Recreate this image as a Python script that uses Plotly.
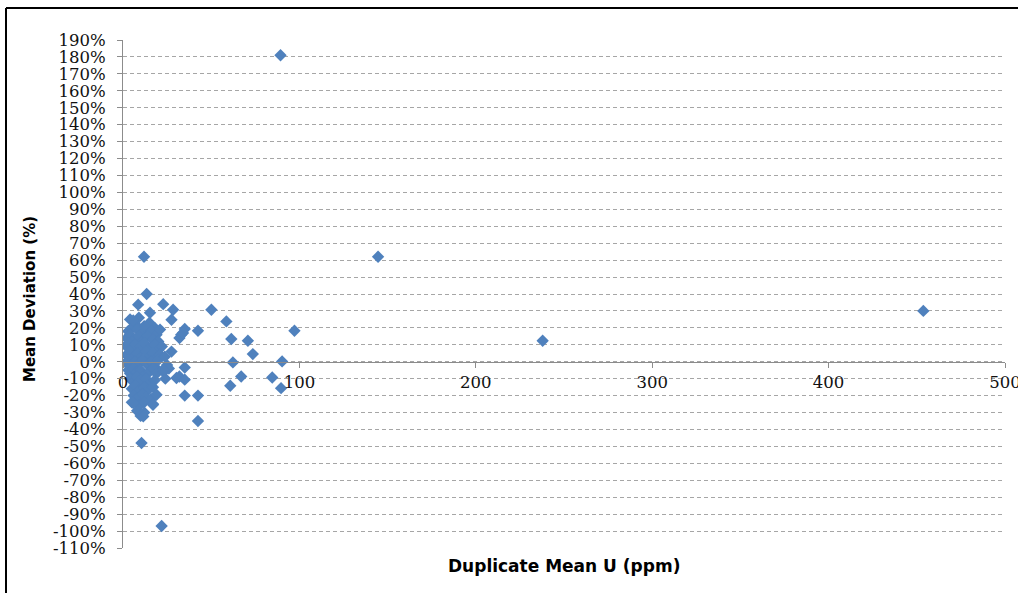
import plotly.graph_objects as go

# Duplicate assay pairs: mean U (ppm) and mean relative deviation (%)
dup_mean_u = [
    # dense low-grade cluster
    4, 7, 9, 12, 15, 18,
    3, 5, 8, 11, 13, 16, 19, 21,
    2, 4, 6, 9, 11, 14, 17, 20,
    2, 3, 5, 7, 10, 12, 15, 18, 20, 22,
    2, 4, 6, 8, 10, 13, 15, 17, 19, 21,
    2, 3, 5, 7, 9, 11, 14, 16, 18, 20,
    3, 4, 6, 8, 10, 12, 15, 17, 19,
    4, 6, 8, 10, 13, 15, 18,
    5, 7, 9, 12, 14, 17,
    6, 8, 11, 13, 16,
    5, 9, 12, 17,
    8, 10, 12,
    23, 25, 24, 26, 23.7, 22.8,
    # scattered pairs
    27.5, 32, 32, 30.3, 35, 35, 35, 33, 34, 42.5, 35, 42.5, 42.5,
    19, 17, 11.5, 5.8, 10.5, 13.4, 8.6, 22.8, 28.4, 15.3, 27.5, 5.8,
    50.1, 58.6, 97.2, 61.4, 70.8, 73.6, 62.3, 90.2, 67, 84.6, 60.8, 89.6,
    21.9,
    # high-grade outliers
    89.3, 11.9, 144.6, 237.9, 453.7,
]

mean_dev_pct = [
    25, 22, 26, 21, 23, 20,
    18, 20, 19, 17, 20, 18, 16, 19,
    14, 16, 13, 15, 12, 15, 13, 12,
    9, 11, 8, 10, 9, 11, 8, 10, 7, 9,
    4, 6, 3, 5, 2, 6, 3, 5, 2, 4,
    -1, 1, -2, 0, -1, 1, -2, 0, -3, 1,
    -5, -7, -4, -6, -5, -8, -6, -4, -7,
    -10, -12, -9, -11, -10, -13, -11,
    -16, -14, -17, -15, -17, -15,
    -20, -22, -19, -21, -22,
    -24, -26, -24, -25,
    -29, -32, -30,
    -6, -2, -10, -4, 3, -4.7,
    6, 14, -8.7, -9.6, -3.4, -10.6, 19.3, 16, 17, 18.3, -20, -20, -35,
    -19.5, -25.4, -32.3, -24.4, -48, 40, 33.7, 34, 30.7, 28.9, 24.8, 24.4,
    30.7, 23.8, 18.3, 13.4, 12.4, 4.5, -0.4, 0.2, -8.7, -9.3, -14.2, -15.6,
    -97,
    181, 62, 62, 12.4, 30,
]

y_ticks = list(range(-110, 191, 10))
y_tick_text = [f"{v}%" for v in y_ticks]
x_ticks = [0, 100, 200, 300, 400, 500]
x_tick_text = [str(v) for v in x_ticks]

W, H = 1018, 593
L, R, T, B = 123, 13, 40, 45
pw, ph = W - L - R, H - T - B


def px_x(p):
    return (p - L) / pw


def px_y(p):
    return (H - B - p) / ph


fig = go.Figure(
    go.Scatter(
        x=dup_mean_u,
        y=mean_dev_pct,
        mode="markers",
        marker=dict(symbol="diamond", size=9.5, color="#4F81BD",
                    line=dict(width=0)),
        hoverinfo="x+y",
    )
)

tick_font = dict(family="DejaVu Serif", size=16.5, color="#111111")
axis_grey = "#8c8c8c"

fig.update_layout(
    width=W,
    height=H,
    margin=dict(l=L, r=R, t=T, b=B, autoexpand=False),
    paper_bgcolor="white",
    plot_bgcolor="white",
    showlegend=False,
    xaxis=dict(
        range=[0, 500],
        tickvals=x_ticks,
        ticktext=x_tick_text,
        tickfont=tick_font,
        ticklabeloverflow="allow",
        automargin=False,
        showgrid=False,
        zeroline=False,
        showline=True,
        linecolor=axis_grey,
        linewidth=1,
        ticks="outside",
        ticklen=5,
        tickcolor=axis_grey,
        anchor="free",
        position=110 / 300,
    ),
    yaxis=dict(
        range=[-110, 190],
        tickvals=y_ticks,
        ticktext=y_tick_text,
        tickfont=tick_font,
        automargin=False,
        showgrid=True,
        gridcolor="#a6a6a6",
        griddash="4px,3px",
        gridwidth=1,
        zeroline=False,
        showline=True,
        linecolor=axis_grey,
        linewidth=1,
        ticks="outside",
        ticklen=5,
        tickcolor=axis_grey,
        ticklabelstandoff=8,
    ),
    annotations=[
        dict(text="<b>Mean Deviation (%)</b>", textangle=-90,
             xref="paper", yref="paper", x=px_x(30), y=px_y(299),
             xanchor="center", yanchor="middle", showarrow=False,
             font=dict(family="DejaVu Sans", size=15, color="#000000")),
        dict(text="<b>Duplicate Mean U (ppm)</b>",
             xref="paper", yref="paper", x=px_x(564), y=px_y(566),
             xanchor="center", yanchor="middle", showarrow=False,
             font=dict(family="DejaVu Sans", size=17, color="#000000")),
    ],
    shapes=[
        dict(type="line", xref="paper", yref="paper",
             x0=px_x(6), x1=px_x(1030), y0=px_y(8), y1=px_y(8),
             line=dict(color="#000000", width=2)),
        dict(type="line", xref="paper", yref="paper",
             x0=px_x(6), x1=px_x(6), y0=px_y(8), y1=px_y(600),
             line=dict(color="#000000", width=2)),
    ],
)

fig.write_html("out.html")
